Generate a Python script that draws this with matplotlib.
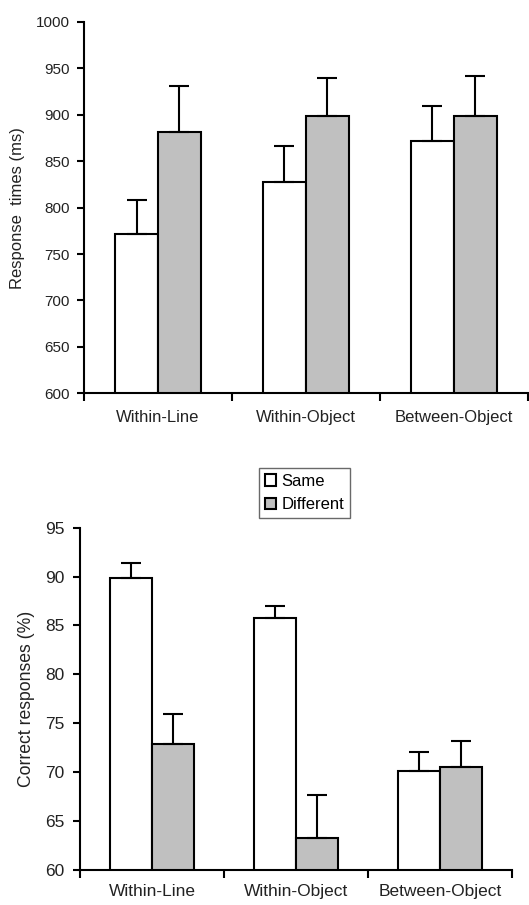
import numpy as np
import matplotlib.pyplot as plt

categorias = ['Within-Line', 'Within-Object', 'Between-Object']

# tiempos de respuesta (ms)
rt_same = [772, 828, 872]
rt_diff = [882, 899, 899]
rt_same_err = [36, 38, 37]
rt_diff_err = [49, 41, 43]

# respuestas correctas (%)
acc_same = [89.9, 85.8, 70.1]
acc_diff = [72.9, 63.3, 70.5]
acc_same_err = [1.5, 1.2, 2.0]
acc_diff_err = [3.0, 4.4, 2.7]

plt.rcParams['font.family'] = ['Liberation Sans', 'DejaVu Sans']

fig = plt.figure(figsize=(5.29, 9.05), dpi=100)
ax1 = fig.add_axes([0.1588, 0.5654, 0.839, 0.4103])
ax2 = fig.add_axes([0.1512, 0.0387, 0.8166, 0.3782])

ancho = 0.29
x = np.arange(len(categorias))
gris = '#c0c0c0'


def panel(ax, same, diff, same_err, diff_err, ylim, yticks, ylabel,
          yfs, xfs, lfs, ypad, xpad):
    err_kw = dict(ecolor='black', elinewidth=1.5, capsize=7, capthick=1.5)
    ax.bar(x - ancho / 2, same, ancho, yerr=[np.zeros(3), same_err],
           color='white', edgecolor='black', linewidth=1.5,
           error_kw=err_kw, label='Same', zorder=2)
    ax.bar(x + ancho / 2, diff, ancho, yerr=[np.zeros(3), diff_err],
           color=gris, edgecolor='black', linewidth=1.5,
           error_kw=err_kw, label='Different', zorder=2)
    ax.set_xlim(-0.5, 2.5)
    ax.set_ylim(*ylim)
    ax.set_yticks(yticks)
    ax.tick_params(axis='y', labelsize=yfs, length=5, width=1.5, pad=ypad,
                   labelcolor='#222222')
    # marcas entre categorias, etiquetas centradas
    ax.set_xticks([-0.5, 0.5, 1.5, 2.5])
    ax.set_xticklabels([])
    ax.set_xticks(x, minor=True)
    ax.set_xticklabels(categorias, minor=True, fontsize=xfs, color='#222222')
    ax.tick_params(axis='x', which='major', length=6, width=1.5)
    ax.tick_params(axis='x', which='minor', length=0, pad=xpad)
    for s in ['top', 'right']:
        ax.spines[s].set_visible(False)
    for s in ['left', 'bottom']:
        ax.spines[s].set_linewidth(1.5)
        ax.spines[s].set_clip_on(False)
    ax.set_ylabel(ylabel, fontsize=lfs, color='#222222')


panel(ax1, rt_same, rt_diff, rt_same_err, rt_diff_err, (600, 1000),
      range(600, 1001, 50), 'Response  times (ms)', 11, 12, 12, 5, 12)
panel(ax2, acc_same, acc_diff, acc_same_err, acc_diff_err, (60, 95),
      range(60, 96, 5), 'Correct responses (%)', 12.5, 12.5, 12.7, 6, 10)

ax1.yaxis.set_label_coords(-0.133, 0.5)
ax2.yaxis.set_label_coords(-0.105, 0.5)

leg = ax2.legend(loc='lower left', bbox_to_anchor=(0.4137, 1.0275), fontsize=12,
                 frameon=True, fancybox=False, edgecolor='#444444',
                 handlelength=0.7, handleheight=0.7, handletextpad=0.3,
                 borderpad=0.35, labelspacing=0.5, borderaxespad=0)
leg.get_frame().set_linewidth(1.0)

fig.savefig('out.png', dpi=100)
